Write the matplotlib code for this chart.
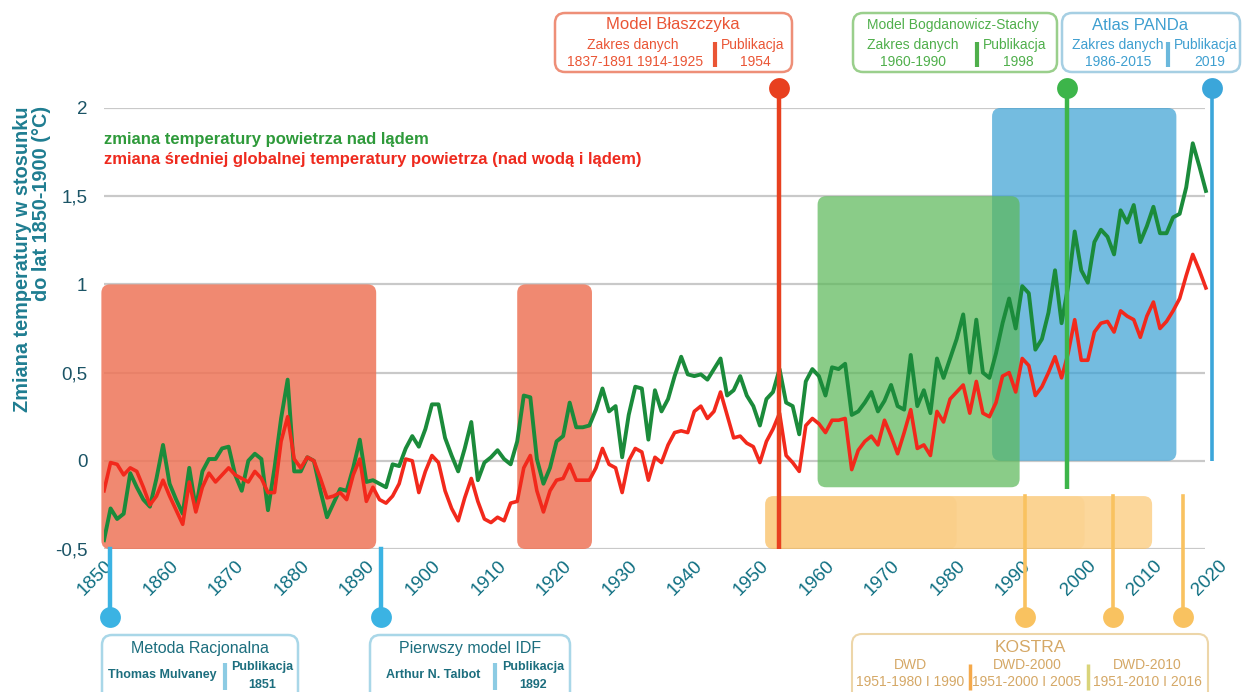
import matplotlib
matplotlib.use('Agg')
import matplotlib.pyplot as plt
from matplotlib.patches import FancyBboxPatch
import numpy as np

plt.rcParams['font.family'] = ['Liberation Sans', 'DejaVu Sans']

# ---------------- data ----------------
years = np.arange(1850, 2019)

land = [
    -0.45, -0.27, -0.33, -0.30, -0.07, -0.15, -0.22, -0.26, -0.10, 0.09,   # 1850-59
    -0.13, -0.22, -0.30, -0.04, -0.27, -0.06, 0.01, 0.01, 0.07, 0.08,      # 1860-69
    -0.08, -0.17, 0.00, 0.04, 0.01, -0.28, -0.04, 0.24, 0.46, -0.06,       # 1870-79
    -0.06, 0.02, 0.00, -0.17, -0.32, -0.24, -0.16, -0.17, -0.04, 0.12,     # 1880-89
    -0.12, -0.11, -0.13, -0.15, -0.02, -0.03, 0.07, 0.14, 0.08, 0.18,      # 1890-99
    0.32, 0.32, 0.13, 0.03, -0.06, 0.07, 0.22, -0.11, -0.01, 0.02,         # 1900-09
    0.06, 0.01, -0.02, 0.11, 0.37, 0.36, 0.01, -0.13, -0.04, 0.11,         # 1910-19
    0.14, 0.33, 0.19, 0.19, 0.20, 0.29, 0.41, 0.28, 0.31, 0.02,            # 1920-29
    0.26, 0.42, 0.41, 0.12, 0.40, 0.28, 0.35, 0.48, 0.59, 0.49,            # 1930-39
    0.48, 0.49, 0.46, 0.52, 0.58, 0.37, 0.40, 0.48, 0.37, 0.31,            # 1940-49
    0.20, 0.35, 0.39, 0.52, 0.33, 0.31, 0.15, 0.45, 0.52, 0.48,            # 1950-59
    0.37, 0.53, 0.52, 0.55, 0.26, 0.28, 0.33, 0.39, 0.28, 0.34,            # 1960-69
    0.43, 0.31, 0.29, 0.60, 0.31, 0.40, 0.27, 0.58, 0.47, 0.58,            # 1970-79
    0.69, 0.83, 0.50, 0.80, 0.50, 0.47, 0.61, 0.78, 0.92, 0.75,            # 1980-89
    0.99, 0.95, 0.63, 0.69, 0.84, 1.08, 0.78, 0.99, 1.30, 1.08,            # 1990-99
    1.01, 1.24, 1.31, 1.27, 1.17, 1.42, 1.35, 1.45, 1.24, 1.33,            # 2000-09
    1.44, 1.29, 1.29, 1.38, 1.40, 1.55, 1.80, 1.67, 1.53,                  # 2010-18
]

globe = [
    -0.17, -0.01, -0.02, -0.08, -0.04, -0.06, -0.15, -0.25, -0.20, -0.11,  # 1850-59
    -0.20, -0.28, -0.36, -0.12, -0.29, -0.15, -0.07, -0.12, -0.08, -0.04,  # 1860-69
    -0.08, -0.10, -0.12, -0.06, -0.10, -0.18, -0.18, 0.11, 0.25, 0.01,     # 1870-79
    -0.04, 0.02, 0.00, -0.10, -0.21, -0.20, -0.18, -0.22, -0.08, 0.01,     # 1880-89
    -0.23, -0.15, -0.22, -0.24, -0.20, -0.13, 0.01, 0.00, -0.18, -0.06,    # 1890-99
    0.03, -0.01, -0.17, -0.27, -0.34, -0.21, -0.10, -0.23, -0.33, -0.35,   # 1900-09
    -0.32, -0.34, -0.24, -0.23, -0.04, 0.03, -0.17, -0.29, -0.17, -0.11,   # 1910-19
    -0.10, -0.02, -0.11, -0.11, -0.11, -0.04, 0.07, -0.02, -0.04, -0.18,   # 1920-29
    0.00, 0.07, 0.05, -0.11, 0.02, -0.01, 0.09, 0.16, 0.17, 0.16,          # 1930-39
    0.28, 0.31, 0.24, 0.28, 0.39, 0.26, 0.13, 0.14, 0.10, 0.08,            # 1940-49
    -0.01, 0.11, 0.18, 0.27, 0.03, -0.01, -0.06, 0.20, 0.24, 0.21,         # 1950-59
    0.16, 0.23, 0.23, 0.24, -0.05, 0.06, 0.11, 0.14, 0.09, 0.23,           # 1960-69
    0.14, 0.04, 0.16, 0.29, 0.07, 0.09, 0.03, 0.28, 0.22, 0.35,            # 1970-79
    0.39, 0.43, 0.27, 0.45, 0.27, 0.25, 0.33, 0.48, 0.50, 0.39,            # 1980-89
    0.58, 0.54, 0.37, 0.42, 0.50, 0.59, 0.47, 0.61, 0.80, 0.57,            # 1990-99
    0.57, 0.73, 0.78, 0.79, 0.73, 0.85, 0.82, 0.80, 0.70, 0.82,            # 2000-09
    0.90, 0.75, 0.79, 0.85, 0.92, 1.05, 1.17, 1.08, 0.98,                  # 2010-18
]

yticks = [-0.5, 0, 0.5, 1, 1.5, 2]
ytick_labels = ['-0,5', '0', '0,5', '1', '1,5', '2']
xticks = list(range(1850, 2021, 10))
xtick_labels = [str(t) for t in xticks]

# shaded data-range boxes: (start, end), (bottom, top)
blaszczyka_ranges = [(1849.6, 1891.5), (1913.0, 1924.4)]
blaszczyka_vspan = (-0.5, 1.0)
bogdanowicz_range = (1958.8, 1989.6)
bogdanowicz_vspan = (-0.15, 1.5)
panda_range = (1985.4, 2013.5)
panda_vspan = (0.0, 2.0)
kostra_ranges = [(1950.8, 2009.8), (1950.8, 1999.5), (1950.8, 1980.0)]
kostra_vspan = (-0.5, -0.2)

# publication markers (x positions as drawn)
top_pubs = [1952.9, 1996.9, 2019.0]
top_pub_bottom = [-0.5, -0.16, 0.0]
top_pub_colors = ['#E8401F', '#3DB54A', '#3BA6DA']
bottom_pubs_blue = [1850.9, 1892.2]
kostra_pubs = [1990.4, 2003.9, 2014.5]
marker_top_y = 2.113
marker_bottom_y = -0.885

# ---------------- figure ----------------
W, H = 1242, 692
fig = plt.figure(figsize=(W / 100, H / 100), dpi=100)
fig.patch.set_facecolor('white')
ax = fig.add_axes([104 / W, 1 - 549 / H, 1115 / W, 441 / H])
ax.set_xlim(1850, 2020)
ax.set_ylim(-0.5, 2.0)
for s in ax.spines.values():
    s.set_visible(False)
ax.set_facecolor('none')

# aspect for rounded corners in data coords
px_per_x = 1115 / 170.0
px_per_y = 441 / 2.5
asp = px_per_x / px_per_y


def rbox(x0, x1, y0, y1, color, alpha, z, r=1.3):
    p = FancyBboxPatch((x0, y0), x1 - x0, y1 - y0,
                       boxstyle=f"round,pad=0,rounding_size={r}",
                       mutation_aspect=asp, facecolor=color, edgecolor='none',
                       alpha=alpha, zorder=z, clip_on=False)
    ax.add_patch(p)


# grid lines
ax.hlines(yticks, 1849.5, 2017.8, colors='#C9C9C9', lw=1.6, zorder=0.5)

# shaded boxes
for a, b in blaszczyka_ranges:
    rbox(a, b, *blaszczyka_vspan, '#EE7558', 0.85, 1)
rbox(*panda_range, *panda_vspan, '#3EA2D5', 0.72, 1)
rbox(*bogdanowicz_range, *bogdanowicz_vspan, '#5DB95A', 0.72, 1.1)
rbox(*kostra_ranges[0], *kostra_vspan, '#FBBF5E', 0.62, 1)
for a, b in kostra_ranges[1:]:
    rbox(a, b, *kostra_vspan, '#F7B04A', 0.10, 1)

# data lines
ax.plot(years, land, color='#1B8B3B', lw=2.8, zorder=3, solid_joinstyle='round')
ax.plot(years, globe, color='#F2291C', lw=2.6, zorder=3.2, solid_joinstyle='round')

# publication lines and markers
for x, yb, c in zip(top_pubs, top_pub_bottom, top_pub_colors):
    ax.plot([x, x], [yb, marker_top_y], color=c, lw=3.2 if c != '#3BA6DA' else 2.6,
            zorder=4, clip_on=False, solid_capstyle='butt')
    ax.plot([x], [marker_top_y], 'o', color=c, ms=15, mec='none', zorder=4, clip_on=False)
for x in bottom_pubs_blue:
    ax.plot([x, x], [marker_bottom_y, -0.5], color='#3BB3E3', lw=3.2, zorder=4, clip_on=False)
    ax.plot([x], [marker_bottom_y], 'o', color='#3BB3E3', ms=15, mec='none', zorder=4, clip_on=False)
for x in kostra_pubs:
    ax.plot([x, x], [marker_bottom_y, -0.2], color='#F9C260', lw=2.6, zorder=4, clip_on=False)
    ax.plot([x], [marker_bottom_y], 'o', color='#F9C260', ms=15, mec='none', zorder=4, clip_on=False)

# ticks
ax.set_yticks(yticks)
ax.set_yticklabels(ytick_labels, fontsize=13.5, color='#1B5466')
ax.set_xticks(xticks)
ax.set_xticklabels(xtick_labels, fontsize=13.5, color='#0F6F82', rotation=45,
                   ha='right', va='top', rotation_mode='anchor')
ax.tick_params(axis='both', length=0)
ax.tick_params(axis='y', pad=12)
ax.tick_params(axis='x', pad=6)

# legend texts
ax.text(1850, 1.82, 'zmiana temperatury powietrza nad lądem', color='#2E9A3A',
        fontsize=12, fontweight='bold', va='center', ha='left', zorder=6)
ax.text(1850, 1.706, 'zmiana średniej globalnej temperatury powietrza (nad wodą i lądem)',
        color='#EE2A1E', fontsize=12, fontweight='bold', va='center', ha='left', zorder=6)

# y label
fig.text(32 / W, 1 - 106 / H, 'Zmiana temperatury w stosunku\ndo lat 1850-1900 (°C)',
         rotation=90, ha='center', va='top', multialignment='right',
         fontsize=14.3, fontweight='bold', color='#1F7D91', linespacing=1.05)

# ---------------- annotation overlay (pixel coords) ----------------
ov = fig.add_axes([0, 0, 1, 1], zorder=5)
ov.set_xlim(0, W)
ov.set_ylim(H, 0)
ov.axis('off')
ov.patch.set_alpha(0)


def pbox(x0, y0, x1, y1, ec, lw=1.8):
    ov.add_patch(FancyBboxPatch((x0, y0), x1 - x0, y1 - y0,
                                boxstyle='round,pad=0,rounding_size=10',
                                facecolor='white', edgecolor=ec, lw=lw, zorder=2))


def bar(x, y0, y1, c, lw=3):
    ov.plot([x, x], [y0, y1], color=c, lw=lw, zorder=3, solid_capstyle='butt')


def t(x, y, s, c, fs, bold=False):
    ov.text(x, y, s, color=c, fontsize=fs, ha='center', va='center',
            fontweight='bold' if bold else 'normal', zorder=4)


# Model Błaszczyka
cb = '#EA5535'
pbox(555, 13, 792, 72, '#EE8F78')
t(673, 25, 'Model Błaszczyka', cb, 12)
t(633, 45, 'Zakres danych', cb, 10)
t(635, 62, '1837-1891 1914-1925', cb, 10)
bar(715, 42, 67, cb)
t(753, 45, 'Publikacja', cb, 10)
t(755, 62, '1954', cb, 10)

# Model Bogdanowicz-Stachy
cg = '#4FAF4B'
pbox(853, 13, 1057, 72, '#9ACF8C')
t(953, 25, 'Model Bogdanowicz-Stachy', cg, 10)
t(913, 45, 'Zakres danych', cg, 10)
t(913, 62, '1960-1990', cg, 10)
bar(977, 42, 67, cg)
t(1015, 45, 'Publikacja', cg, 10)
t(1018, 62, '1998', cg, 10)

# Atlas PANDa
cbl = '#3E9FD0'
pbox(1062, 13, 1240, 72, '#A6CFE3')
t(1140, 26, 'Atlas PANDa', cbl, 12)
t(1118, 45, 'Zakres danych', cbl, 10)
t(1118, 62, '1986-2015', cbl, 10)
bar(1168, 42, 67, '#6BB8DC')
t(1206, 45, 'Publikacja', cbl, 10)
t(1210, 62, '2019', cbl, 10)

# Metoda Racjonalna
ct = '#1C6E7E'
pbox(102, 635, 298, 705, '#A9D7E8')
t(200, 648, 'Metoda Racjonalna', ct, 11.5)
t(162, 675, 'Thomas Mulvaney', ct, 9, bold=True)
bar(225, 663, 690, '#8CCBE3')
t(262, 667, 'Publikacja', ct, 9, bold=True)
t(262, 685, '1851', ct, 9, bold=True)

# Pierwszy model IDF
pbox(370, 635, 570, 705, '#A9D7E8')
t(470, 648, 'Pierwszy model IDF', ct, 11.5)
t(433, 675, 'Arthur N. Talbot', ct, 9, bold=True)
bar(495, 663, 690, '#8CCBE3')
t(533, 667, 'Publikacja', ct, 9, bold=True)
t(533, 685, '1892', ct, 9, bold=True)

# KOSTRA
ck = '#D5A866'
pbox(852, 634, 1208, 705, '#EDD6A9', lw=1.5)
t(1030, 647, 'KOSTRA', ck, 12.5)
t(910, 665, 'DWD', ck, 10)
t(910, 682, '1951-1980 I 1990', ck, 10)
bar(970, 664, 690, '#F5A94A', lw=2.5)
t(1027, 665, 'DWD-2000', ck, 10)
t(1027, 682, '1951-2000 I 2005', ck, 10)
bar(1088, 664, 690, '#D9D47A', lw=2.5)
t(1147, 665, 'DWD-2010', ck, 10)
t(1147, 682, '1951-2010 I 2016', ck, 10)

fig.savefig('out.png', dpi=100, facecolor='white')
